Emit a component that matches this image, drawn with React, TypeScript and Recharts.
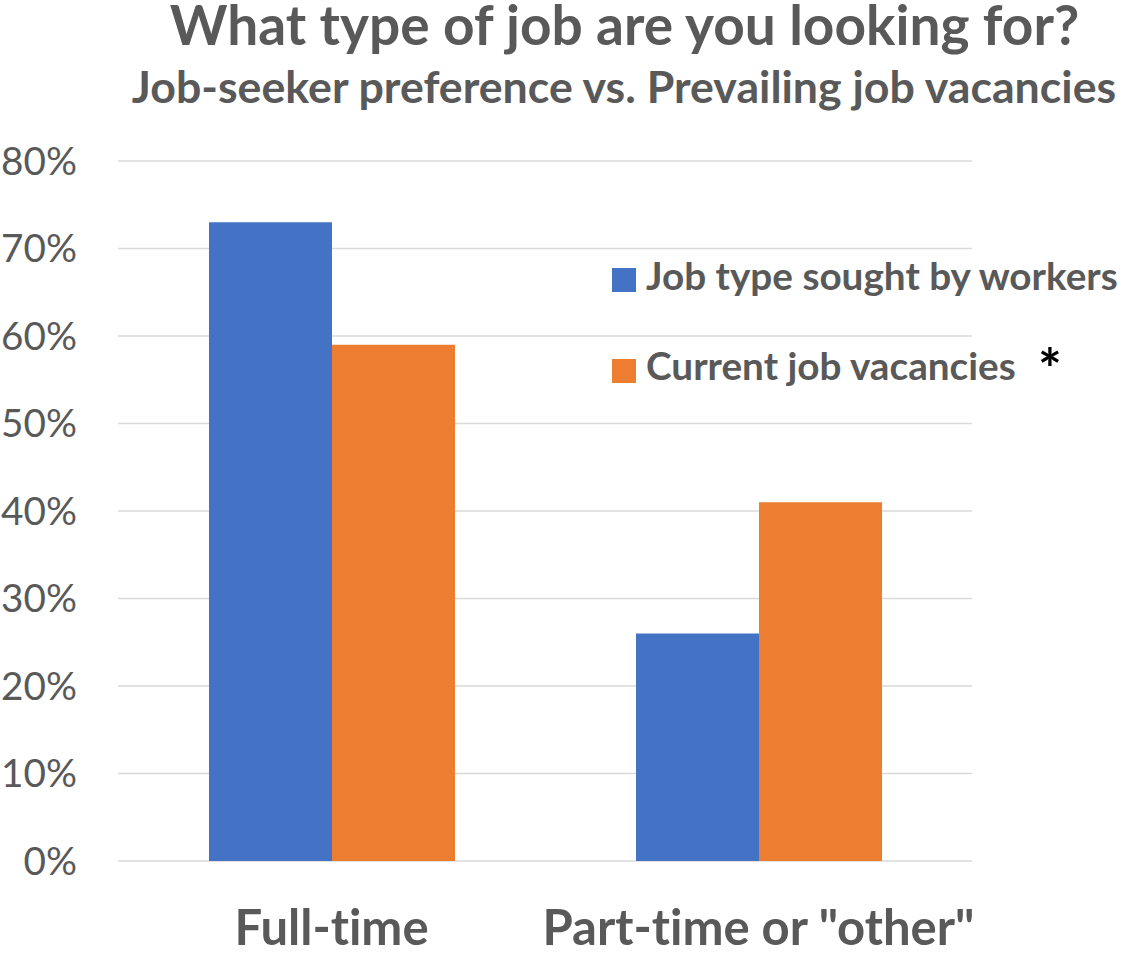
import { Bar, BarChart, CartesianGrid, XAxis, YAxis } from "recharts";

const CATEGORIES = ["Full-time", 'Part-time or "other"'];
const SOUGHT = [73, 26];
const VACANCIES = [59, 41];
const Y_TICKS = [0, 10, 20, 30, 40, 50, 60, 70, 80];

const BLUE = "#4472c4";
const ORANGE = "#ed7d31";
const TEXT = "#595959";
const FONT = "Lato, 'Open Sans', sans-serif";

const chartData = CATEGORIES.map((name, i) => ({
	name,
	sought: SOUGHT[i],
	vacancies: VACANCIES[i],
}));

const LEGEND_ITEMS = [
	{ label: "Job type sought by workers", color: BLUE },
	{ label: "Current job vacancies", color: ORANGE },
];

function LegendBox() {
	return (
		<>
			{LEGEND_ITEMS.map((it, i) => (
				<div key={it.label}>
					<div
						style={{
							position: "absolute",
							left: 612,
							top: 268 + i * 91,
							width: 24,
							height: 24,
							background: it.color,
						}}
					/>
					<div
						style={{
							position: "absolute",
							left: 646,
							top: 252 + i * 90,
							fontSize: 38.7,
							lineHeight: "46px",
							fontWeight: 700,
							color: TEXT,
							whiteSpace: "nowrap",
						}}
					>
						{it.label}
					</div>
				</div>
			))}
			<div
				style={{
					position: "absolute",
					left: 1038,
					top: 334,
					fontSize: 56,
					lineHeight: "68px",
					fontWeight: 700,
					color: "#000",
				}}
			>
				*
			</div>
		</>
	);
}

export default function App() {
	return (
		<div
			style={{
				position: "absolute",
				left: 0,
				top: 0,
				width: 1137,
				height: 954,
				background: "#fff",
				fontFamily: FONT,
				fontVariantLigatures: "none",
			}}
		>
			<div
				style={{
					position: "absolute",
					left: 0,
					width: 1249,
					top: 0,
					textAlign: "center",
					fontSize: 55,
					fontWeight: 700,
					color: TEXT,
					lineHeight: "48px",
					whiteSpace: "nowrap",
				}}
			>
				What type of job are you looking for?
			</div>
			<div
				style={{
					position: "absolute",
					left: 0,
					width: 1248,
					top: 59,
					textAlign: "center",
					fontSize: 44.7,
					fontWeight: 700,
					color: TEXT,
					lineHeight: "54px",
					whiteSpace: "nowrap",
				}}
			>
				Job-seeker preference vs. Prevailing job vacancies
			</div>
			<BarChart
				width={1137}
				height={954}
				data={chartData}
				margin={{ top: 161, right: 165, left: 0, bottom: 0 }}
				barCategoryGap={91}
				barGap={0}
				style={{ position: "absolute", left: 0, top: 0 }}
			>
				<CartesianGrid vertical={false} stroke="#d9d9d9" strokeWidth={1.5} />
				<XAxis
					dataKey="name"
					height={93}
					axisLine={false}
					tickLine={false}
					tickSize={0}
					tickMargin={49}
					tick={{ fill: TEXT, fontSize: 49, fontWeight: 700, fontFamily: FONT }}
				/>
				<YAxis
					width={118}
					domain={[0, 80]}
					ticks={Y_TICKS}
					interval={0}
					axisLine={false}
					tickLine={false}
					tickSize={0}
					tickMargin={41}
					tickFormatter={(v) => `${v}%`}
					tick={{ fill: TEXT, fontSize: 38.7, fontFamily: FONT }}
				/>
				<Bar dataKey="sought" fill={BLUE} isAnimationActive={false} />
				<Bar dataKey="vacancies" fill={ORANGE} isAnimationActive={false} />
			</BarChart>
			<LegendBox />
		</div>
	);
}
